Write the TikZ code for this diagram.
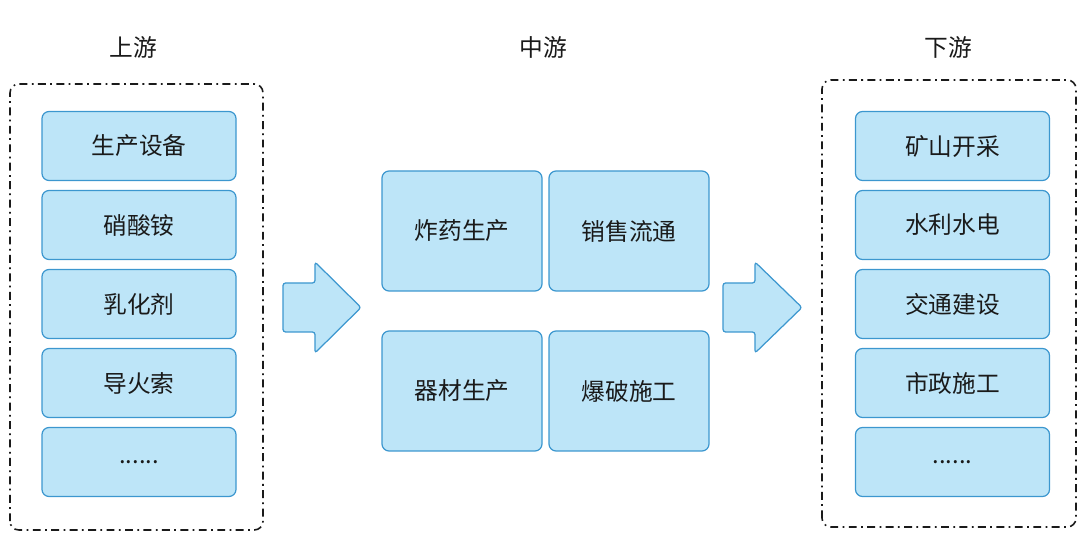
\documentclass[tikz,border=0pt]{standalone}
\usepackage{fontspec}
\setmainfont{Noto Sans CJK SC}
\usetikzlibrary{positioning, calc}
\definecolor{chfill}{HTML}{BDE5F8}
\definecolor{chdraw}{HTML}{3C97CF}
\definecolor{chtext}{HTML}{1A1A1A}
\definecolor{chframe}{HTML}{1A1A1A}

\begin{document}
\begin{tikzpicture}[
  every node/.style={font=\fontsize{13.5}{16}\selectfont, text=chtext},
  itembox/.style={rectangle, rounded corners=4pt, draw=chdraw, fill=chfill, line width=0.7pt, minimum width=3.88cm, minimum height=1.38cm, align=center},
  midbox/.style={itembox, minimum width=3.2cm, minimum height=2.4cm},
  groupbox/.style={rounded corners=5pt, draw=chframe, line width=0.9pt, dash pattern=on 4.5pt off 2.5pt on 1pt off 2.5pt},
  flowarrow/.style={draw=chdraw, fill=chfill, line width=0.7pt, rounded corners=1.5pt},
  header/.style={font=\fontsize{13.5}{16}\selectfont},
]
\useasboundingbox (0,0) rectangle (21.7,10.82);

% Upstream
\draw[groupbox] (0.20,0.22) rectangle (5.26,9.14);
\node[header] (up) at (2.66, 9.88) {上游};
\node[itembox] (u1) at (2.78, 7.90) {生产设备};
\node[itembox] (u2) at (2.78, 6.32) {硝酸铵};
\node[itembox] (u3) at (2.78, 4.74) {乳化剂};
\node[itembox] (u4) at (2.78, 3.16) {导火索};
\node[itembox] (u5) at (2.78, 1.58) {......};

% Midstream
\node[header] (mid) at (10.86, 9.88) {中游};
\node[midbox] (m1) at (9.24, 6.20) {炸药生产};
\node[midbox] (m2) at (12.58, 6.20) {销售流通};
\node[midbox] (m3) at (9.24, 3.00) {器材生产};
\node[midbox] (m4) at (12.58, 3.00) {爆破施工};

% Downstream
\draw[groupbox] (16.44,0.28) rectangle (21.52,9.22);
\node[header] (down) at (18.96, 9.88) {下游};
\node[itembox] (d1) at (19.05, 7.90) {矿山开采};
\node[itembox] (d2) at (19.05, 6.32) {水利水电};
\node[itembox] (d3) at (19.05, 4.74) {交通建设};
\node[itembox] (d4) at (19.05, 3.16) {市政施工};
\node[itembox] (d5) at (19.05, 1.58) {......};

% Flow arrows
\draw[flowarrow] (5.66,5.16) -- (6.30,5.16) -- (6.30,5.58) -- (7.22,4.67)
  -- (6.30,3.76) -- (6.30,4.18) -- (5.66,4.18) -- cycle;
\draw[flowarrow] (14.46,5.16) -- (15.10,5.16) -- (15.10,5.58) -- (16.04,4.67)
  -- (15.10,3.76) -- (15.10,4.18) -- (14.46,4.18) -- cycle;

\end{tikzpicture}
\end{document}
